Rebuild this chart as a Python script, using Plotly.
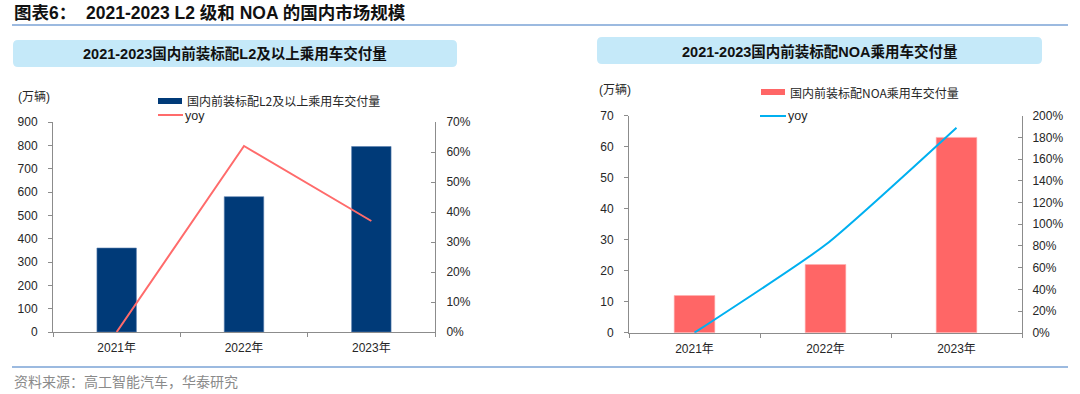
import plotly.graph_objects as go

# ---- data ----
years = ["2021年", "2022年", "2023年"]
l2_volume = [360, 580, 795]          # 万辆
l2_yoy = [0.0, 0.62, 0.37]
noa_volume = [12, 22, 63]            # 万辆
noa_yoy = [0.0, 0.81, 1.89]

main_title = "图表6：  2021-2023 L2 级和 NOA 的国内市场规模"
left_title = "2021-2023国内前装标配L2及以上乘用车交付量"
right_title = "2021-2023国内前装标配NOA乘用车交付量"
l2_name = "国内前装标配L2及以上乘用车交付量"
noa_name = "国内前装标配NOA乘用车交付量"
unit = "(万辆)"
source = "资料来源：高工智能汽车，华泰研究"

W, H = 1080, 394
CJK = "Noto Sans CJK SC"
MIX = "Liberation Sans, Noto Sans CJK SC, sans-serif"
NUM = "Liberation Sans, Arial, sans-serif"
AX = "#8c8c8c"
TXT = "#262626"

def px(x):
    return x / W

def py(y):
    return 1 - y / H

fig = go.Figure()
fig.add_trace(go.Bar(x=years, y=l2_volume, name=l2_name, width=0.31,
                     marker=dict(color="#003A78", line=dict(color="#5a7fb0", width=0.6)),
                     xaxis="x", yaxis="y", showlegend=False))
fig.add_trace(go.Scatter(x=years, y=l2_yoy, name="yoy", mode="lines",
                         line=dict(color="#FF6B6B", width=2),
                         xaxis="x", yaxis="y2", showlegend=False, cliponaxis=False))
fig.add_trace(go.Bar(x=years, y=noa_volume, name=noa_name, width=0.31,
                     marker=dict(color="#FF6666", line=dict(color="#ffb0b0", width=0.6)),
                     xaxis="x2", yaxis="y3", showlegend=False))
fig.add_trace(go.Scatter(x=years, y=noa_yoy, name="yoy", mode="lines",
                         line=dict(color="#00B0F0", width=2, shape="spline", smoothing=0.5),
                         xaxis="x2", yaxis="y4", showlegend=False, cliponaxis=False))

tickfont = dict(family=NUM, size=12, color=TXT)
xcommon = dict(type="category", showline=True, linecolor=AX, linewidth=1,
               ticks="outside", tickson="boundaries", ticklen=4, tickcolor=AX,
               showgrid=False, zeroline=False, tickfont=dict(family=MIX, size=12, color=TXT),
               fixedrange=True, automargin=False, ticklabelstandoff=5)
ycommon = dict(showline=True, linecolor=AX, linewidth=1, ticklen=4, tickcolor=AX,
               showgrid=False, zeroline=False, tickfont=tickfont, fixedrange=True,
               automargin=False)

left_dom_x = [px(53), px(435)]
left_dom_y = [py(332), py(122)]
right_dom_x = [px(629), px(1022)]
right_dom_y = [py(332.7), py(115.7)]

fig.update_layout(
    width=W, height=H,
    margin=dict(l=0, r=0, t=0, b=0, pad=0, autoexpand=False),
    paper_bgcolor="white", plot_bgcolor="white",
    xaxis=dict(domain=left_dom_x, anchor="y", **xcommon),
    yaxis=dict(domain=left_dom_y, anchor="x", range=[0, 900], dtick=100,
               ticks="outside", ticklabelstandoff=8, **ycommon),
    yaxis2=dict(overlaying="y", anchor="x", side="right", range=[0, 0.7], dtick=0.1,
                tickformat=".0%", ticks="inside", ticklabelstandoff=8, **ycommon),
    xaxis2=dict(domain=right_dom_x, anchor="y3", **xcommon),
    yaxis3=dict(domain=right_dom_y, anchor="x2", range=[0, 70], dtick=10,
                ticks="outside", ticklabelstandoff=8, **ycommon),
    yaxis4=dict(overlaying="y3", anchor="x2", side="right", range=[0, 2.0], dtick=0.2,
                tickformat=".0%", ticks="inside", ticklabelstandoff=7, **ycommon),
    font=dict(family=MIX, color=TXT),
)

def rounded(x0, y0, x1, y1, r=5):
    rx, ry = r / W, r / H
    X0, X1 = px(x0), px(x1)
    Yt, Yb = py(y0), py(y1)
    return (f"M {X0+rx},{Yt} L {X1-rx},{Yt} Q {X1},{Yt} {X1},{Yt-ry} "
            f"L {X1},{Yb+ry} Q {X1},{Yb} {X1-rx},{Yb} L {X0+rx},{Yb} "
            f"Q {X0},{Yb} {X0},{Yb+ry} L {X0},{Yt-ry} Q {X0},{Yt} {X0+rx},{Yt} Z")

shapes = [
    dict(type="path", xref="paper", yref="paper", path=rounded(13, 40, 457, 67),
         fillcolor="#C5E9F9", line=dict(width=0), layer="below"),
    dict(type="path", xref="paper", yref="paper", path=rounded(597, 37, 1042, 64),
         fillcolor="#C5E9F9", line=dict(width=0), layer="below"),
    dict(type="line", xref="paper", yref="paper", x0=px(12), x1=px(1068), y0=py(25), y1=py(25),
         line=dict(color="#7BA3D6", width=1.5)),
    dict(type="line", xref="paper", yref="paper", x0=px(12), x1=px(1068), y0=py(367), y1=py(367),
         line=dict(color="#7BA3D6", width=1.5)),
    dict(type="rect", xref="paper", yref="paper", x0=px(158), x1=px(182), y0=py(98), y1=py(104),
         fillcolor="#003A78", line=dict(width=0)),
    dict(type="line", xref="paper", yref="paper", x0=px(158), x1=px(183), y0=py(115), y1=py(115),
         line=dict(color="#FF6B6B", width=2)),
    dict(type="rect", xref="paper", yref="paper", x0=px(761), x1=px(785), y0=py(89), y1=py(95),
         fillcolor="#FF6666", line=dict(width=0)),
    dict(type="line", xref="paper", yref="paper", x0=px(760), x1=px(786), y0=py(116), y1=py(116),
         line=dict(color="#00B0F0", width=2)),
]

def ann(text, x, y, size=12, color=TXT, xanchor="left", bold=False, family=CJK):
    return dict(text=f"<b>{text}</b>" if bold else text, x=px(x), y=py(y),
                xref="paper", yref="paper", xanchor=xanchor, yanchor="middle",
                showarrow=False, font=dict(family=family, size=size, color=color))

annotations = [
    ann(main_title, 12, 13, size=17.5, color="#111111", bold=True, family=MIX),
    ann(left_title, 235, 54, size=14.5, color="#111111", xanchor="center", bold=True, family=MIX),
    ann(right_title, 819.5, 51, size=14.5, color="#111111", xanchor="center", bold=True, family=MIX),
    ann(unit, 16, 97, size=12, family=MIX),
    ann(unit, 597, 90, size=12, family=MIX),
    ann(l2_name, 185, 100, size=12),
    ann("yoy", 183, 116, size=12.5, family=NUM),
    ann(noa_name, 788, 92, size=12),
    ann("yoy", 786, 116, size=12.5, family=NUM),
    ann(source, 12, 381, size=14, color="#8a8a8a"),
]

fig.update_layout(shapes=shapes, annotations=annotations)
fig.write_html("out.html", config={"displayModeBar": False},
               post_script="document.body.style.margin='0';document.body.style.padding='0';document.body.style.overflow='hidden';")
